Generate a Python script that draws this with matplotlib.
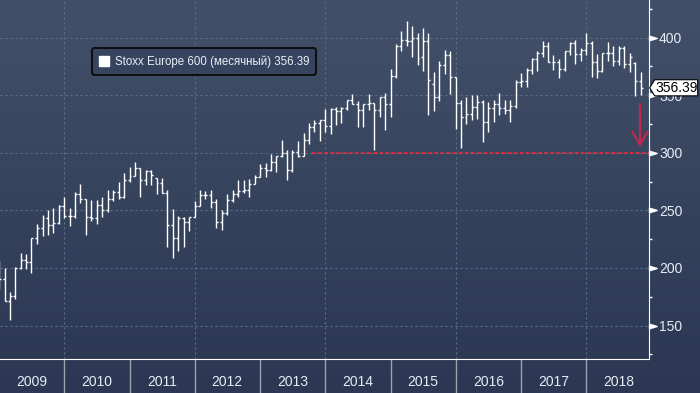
import numpy as np
import pandas as pd
import matplotlib
matplotlib.use('Agg')
import matplotlib.pyplot as plt
import matplotlib.dates as mdates
import matplotlib.patches as patches
from matplotlib.lines import Line2D
from matplotlib.path import Path
from matplotlib.ticker import MultipleLocator, NullFormatter
from matplotlib.colors import LinearSegmentedColormap
from matplotlib.transforms import blended_transform_factory

plt.rcParams['font.family'] = ['Liberation Sans', 'DejaVu Sans']

# monthly OHLC, Stoxx Europe 600, Jan 2009 - Nov 2018
opens = [196, 190, 171, 176, 200, 207, 205, 226, 235, 243, 237, 239,
         254, 245, 245, 264, 260, 244, 243, 255, 250, 260, 266, 262,
         276, 280, 287, 276, 284, 278, 274, 265, 237, 226, 243, 240,
         244, 254, 263, 263, 257, 240, 248, 259, 264, 267, 268, 273,
         279, 287, 285, 292, 297, 300, 285, 301, 297, 311, 322, 326,
         328, 323, 338, 336, 339, 346, 342, 337, 342, 343, 337, 348,
         342, 367, 393, 398, 397, 400, 383, 397, 360, 348, 376, 385,
         366, 343, 331, 334, 340, 344, 327, 339, 342, 339, 337, 341,
         361, 362, 372, 381, 387, 393, 379, 379, 373, 388, 395, 386,
         389, 395, 379, 371, 387, 387, 380, 391, 377, 378, 362]
highs = [206, 200, 179, 201, 213, 212, 226, 238, 246, 250, 252, 255,
         262, 252, 266, 273, 260, 259, 259, 262, 268, 268, 275, 282,
         288, 292, 287, 285, 285, 278, 278, 268, 251, 245, 244, 244,
         258, 268, 267, 268, 260, 250, 264, 268, 276, 276, 277, 281,
         290, 291, 299, 297, 311, 302, 302, 310, 317, 326, 328, 328,
         338, 339, 340, 340, 346, 351, 345, 342, 351, 343, 348, 352,
         373, 394, 406, 414, 410, 404, 408, 404, 370, 380, 389, 388,
         366, 346, 348, 350, 350, 346, 344, 346, 352, 346, 346, 363,
         369, 374, 382, 388, 397, 396, 385, 381, 388, 396, 398, 391,
         404, 397, 386, 387, 396, 393, 393, 393, 387, 379, 370]
lows = [182, 171, 155, 173, 199, 199, 196, 221, 228, 229, 230, 238,
        243, 236, 243, 256, 229, 241, 238, 244, 249, 258, 260, 261,
        275, 280, 262, 272, 272, 264, 265, 218, 209, 215, 218, 232,
        244, 254, 260, 252, 235, 233, 246, 257, 262, 265, 262, 273,
        279, 279, 284, 283, 296, 276, 283, 296, 297, 308, 318, 310,
        318, 316, 324, 326, 337, 342, 322, 322, 337, 302, 331, 320,
        331, 365, 388, 393, 383, 376, 371, 333, 336, 345, 368, 351,
        321, 304, 325, 328, 329, 309, 318, 327, 333, 334, 327, 339,
        357, 357, 368, 371, 383, 379, 372, 365, 371, 385, 377, 380,
        385, 366, 365, 370, 380, 375, 376, 374, 370, 349, 350]
closes = [190, 171, 176, 200, 207, 205, 226, 235, 243, 237, 239, 254,
          245, 245, 264, 260, 244, 243, 255, 250, 260, 266, 262, 276,
          280, 287, 276, 284, 281, 274, 265, 237, 226, 243, 240, 244,
          254, 263, 263, 257, 240, 248, 259, 264, 267, 268, 273, 279,
          287, 285, 292, 297, 300, 285, 301, 297, 311, 322, 326, 328,
          323, 338, 336, 339, 346, 342, 337, 342, 343, 337, 348, 342,
          367, 393, 398, 397, 400, 382, 397, 363, 348, 376, 385, 366,
          343, 331, 334, 340, 344, 327, 339, 342, 339, 337, 341, 361,
          362, 372, 381, 387, 393, 379, 379, 373, 388, 395, 386, 389,
          395, 379, 371, 387, 387, 380, 391, 377, 383, 362, 356.39]

yticks = [150, 200, 250, 300, 350, 400]
support_level = 300
support_start = '2013-10-20'
series_name = 'Stoxx Europe 600 (месячный)'

dates = pd.date_range('2009-01-01', periods=len(closes), freq='MS')
x = mdates.date2num(dates)
tick = 11  # days

fig = plt.figure(figsize=(7, 3.93), dpi=100)

# background gradient
bg = fig.add_axes([0, 0, 1, 1], zorder=-5)
grad = np.linspace(0, 1, 256).reshape(-1, 1)
cmap = LinearSegmentedColormap.from_list('bg', ['#425169', '#36435d', '#2b3753'])
bg.imshow(grad, aspect='auto', cmap=cmap, extent=[0, 1, 0, 1])
bg.axis('off')

ax = fig.add_axes([0, 33.7/393, 648.7/700, 1 - 33.7/393])
ax.set_facecolor('none')

x0 = mdates.date2num(pd.Timestamp('2009-01-06'))
x1 = mdates.date2num(pd.Timestamp('2018-12-16'))
ax.set_xlim(x0, x1)
ax.set_ylim(120.7, 432.6)

gridcol = '#55708a'
ax.grid(axis='y', color=gridcol, linestyle=(0, (2, 2.5)), linewidth=0.8)
for yr in [2010, 2012, 2014, 2016, 2018]:
    ax.axvline(mdates.date2num(pd.Timestamp(f'{yr}-01-01')), color=gridcol,
               linestyle=(0, (2, 2.5)), linewidth=0.8, zorder=0.5)

# bars
ax.vlines(x, lows, highs, colors='white', linewidth=1.0, zorder=3)
ax.hlines(opens, x - tick, x, colors='white', linewidth=1.0, zorder=3)
ax.hlines(closes, x, x + tick, colors='white', linewidth=1.0, zorder=3)

# support line + arrow
ax.hlines(support_level, mdates.date2num(pd.Timestamp(support_start)), x1,
          colors='#ff2438', linestyles=(0, (2.5, 1.5)), linewidth=1.1, zorder=2)
arr_x = mdates.date2num(pd.Timestamp('2018-10-28'))
ax.annotate('', xy=(arr_x, 305), xytext=(arr_x, 342.5),
            arrowprops=dict(arrowstyle='->,head_length=0.95,head_width=0.55',
                            color='#c0284a', lw=1.6, shrinkA=0, shrinkB=0,
                            mutation_scale=10), zorder=4)

# spines
for s in ['top', 'left']:
    ax.spines[s].set_visible(False)
ax.spines['bottom'].set_color('white')
ax.spines['right'].set_color('white')

# x axis: year separators + labels
ax.xaxis.set_major_locator(mdates.YearLocator())
ax.xaxis.set_major_formatter(NullFormatter())
ax.xaxis.set_minor_locator(mdates.MonthLocator(bymonth=7))
ax.xaxis.set_minor_formatter(mdates.DateFormatter('%Y'))
ax.tick_params(axis='x', which='major', direction='out', length=25, width=1, color='#9aa3ad')
ax.tick_params(axis='x', which='minor', length=0, pad=11, labelsize=10, labelcolor='#e6edf5')

# y axis on the right
ax.yaxis.tick_right()
ax.set_yticks(yticks)
ax.yaxis.set_minor_locator(MultipleLocator(25))
ax.tick_params(axis='y', which='major', length=0, pad=7.5, labelsize=10, labelcolor='#e6edf5')
ax.tick_params(axis='y', which='minor', direction='out', length=2.5, width=1, color='white')

tri = Path([(0, -0.3), (1, 0), (0, 0.3), (0, -0.3)],
           [Path.MOVETO, Path.LINETO, Path.LINETO, Path.CLOSEPOLY])
tr = blended_transform_factory(ax.transAxes, ax.transData)
ax.plot([1.0]*len(yticks), yticks, ls='none', marker=tri,
        markersize=11, color='white', transform=tr, clip_on=False, zorder=5)

# last price tag
last = closes[-1]
bl = 1.0 + 6/648.7
br = 1.0 + 49/648.7
hh = 7.0
tag = patches.Polygon([(1.0015, last), (bl, last + hh), (br, last + hh), (br, last - hh), (bl, last - hh)],
                      closed=True, facecolor='white', edgecolor='black', lw=0.8,
                      transform=tr, clip_on=False, zorder=6)
ax.add_patch(tag)
ax.text((bl + br)/2 + 0.001, last, f'{last:.2f}', transform=tr, ha='center', va='center',
        color='black', fontsize=10, zorder=7, clip_on=False)

# legend
h = Line2D([0], [0], marker='s', ls='none', color='white', markersize=7)
leg = ax.legend(handles=[h], labels=[f'{series_name} {last:.2f}'], loc='upper left',
                bbox_to_anchor=(92/648.7, 1 - 48.3/359.3), bbox_transform=ax.transAxes,
                fontsize=8.3, frameon=True, fancybox=True, facecolor='#36445f',
                edgecolor='#0a0a0a', framealpha=1, handlelength=0.8, handletextpad=0.6,
                borderpad=0.6, borderaxespad=0, labelcolor='#e8eef5')
leg.get_frame().set_linewidth(1.3)

fig.savefig('out.png', dpi=100)
